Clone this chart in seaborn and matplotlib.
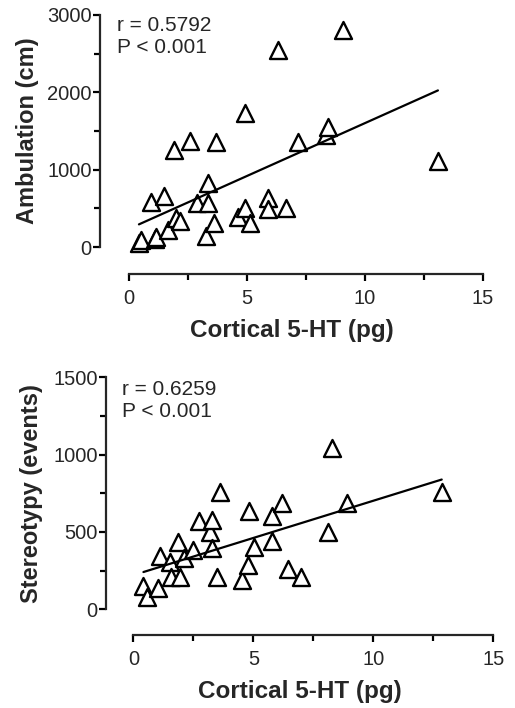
import numpy as np
import matplotlib
matplotlib.use("Agg")
import matplotlib.pyplot as plt
import seaborn as sns

# top panel: ambulation vs cortical 5-HT
amb_x = [0.42, 0.52, 0.92, 1.09, 1.16, 1.47, 1.67, 1.91, 1.99, 2.16, 2.58, 2.87,
         3.26, 3.36, 3.36, 3.60, 3.67, 4.63, 4.92, 4.92, 5.13, 5.90, 5.90, 6.31,
         6.64, 7.17, 8.33, 8.42, 9.07, 13.09]
amb_y = [48, 91, 586, 100, 129, 660, 220, 1255, 371, 340, 1375, 573,
         142, 824, 565, 314, 1362, 392, 1730, 500, 314, 638, 488, 2548,
         500, 1362, 1449, 1556, 2806, 1106]

# bottom panel: stereotypy vs cortical 5-HT
ster_x = [0.42, 0.56, 1.04, 1.11, 1.53, 1.56, 1.875, 1.95, 2.13, 2.50, 2.75, 3.20,
          3.29, 3.29, 3.50, 3.61, 4.52, 4.79, 4.82, 5.03, 5.77, 5.79, 6.18, 6.46,
          6.99, 8.10, 8.27, 8.89, 12.85]
ster_y = [151, 82, 136, 344, 308, 211, 437, 207, 330, 383, 571, 502,
          577, 394, 211, 760, 189, 286, 637, 401, 444, 603, 689, 259,
          207, 502, 1041, 689, 761]

sns.set_style("ticks")
plt.rcParams['font.family'] = ['Liberation Sans', 'DejaVu Sans']

fig = plt.figure(figsize=(5.15, 7.08), dpi=100)
W, H = 515.0, 708.0

panels = [
    dict(x=amb_x, y=amb_y, pos=(100, 483, 274, 15), xlim=(-1.23, 15), ylim=(-349, 3000),
         yticks=[0, 1000, 2000, 3000], yminor=[500, 1500, 2500],
         ylabel="Ambulation (cm)", lx=-0.158,
         txt="r = 0.5792\nP < 0.001", tx=0.045, ty=0.995),
    dict(x=ster_x, y=ster_y, pos=(106, 493.3, 635, 377.3), xlim=(-1.14, 15), ylim=(-166, 1500),
         yticks=[0, 500, 1000, 1500], yminor=[250, 750, 1250],
         ylabel="Stereotypy (events)", lx=-0.163,
         txt="r = 0.6259\nP < 0.001", tx=0.042, ty=0.99),
]

for p in panels:
    l, r, b, t = p["pos"]
    ax = fig.add_axes([l / W, 1 - b / H, (r - l) / W, (b - t) / H])
    sns.scatterplot(x=p["x"], y=p["y"], ax=ax, marker="^", s=150,
                    facecolor="white", edgecolor="black", linewidth=1.7, zorder=3)
    sns.regplot(x=p["x"], y=p["y"], ax=ax, scatter=False, ci=None,
                line_kws=dict(color="black", lw=1.6, zorder=4))
    ax.set_xlim(*p["xlim"])
    ax.set_ylim(*p["ylim"])
    ax.spines["top"].set_visible(False)
    ax.spines["right"].set_visible(False)
    ax.spines["left"].set_bounds(0, p["yticks"][-1])
    ax.spines["bottom"].set_bounds(0, 15)
    ax.spines["left"].set_linewidth(1.6)
    ax.spines["bottom"].set_linewidth(1.6)
    ax.set_xticks([0, 5, 10, 15])
    ax.set_xticks([2.5, 7.5, 12.5], minor=True)
    ax.set_yticks(p["yticks"])
    ax.set_yticks(p["yminor"], minor=True)
    ax.tick_params(which="major", length=5, width=1.6, labelsize=14.5, color="black")
    ax.tick_params(which="minor", length=4, width=1.6, color="black")
    ax.tick_params(axis="y", pad=1)
    ax.tick_params(axis="x", pad=6)
    ax.set_xlabel("Cortical 5-HT (pg)", fontsize=17.5, fontweight="bold", labelpad=8)
    ax.set_ylabel(p["ylabel"], fontsize=17, fontweight="bold")
    # centre the y label on the y spine (0 .. top tick), not on the whole axes
    ymid = p["yticks"][-1] / 2
    ax.yaxis.set_label_coords(p["lx"], (ymid - p["ylim"][0]) / (p["ylim"][1] - p["ylim"][0]))
    ax.text(p["tx"], p["ty"], p["txt"], transform=ax.transAxes, ha="left", va="top",
            fontsize=15, linespacing=1.2)

fig.savefig("out.png", dpi=100)
